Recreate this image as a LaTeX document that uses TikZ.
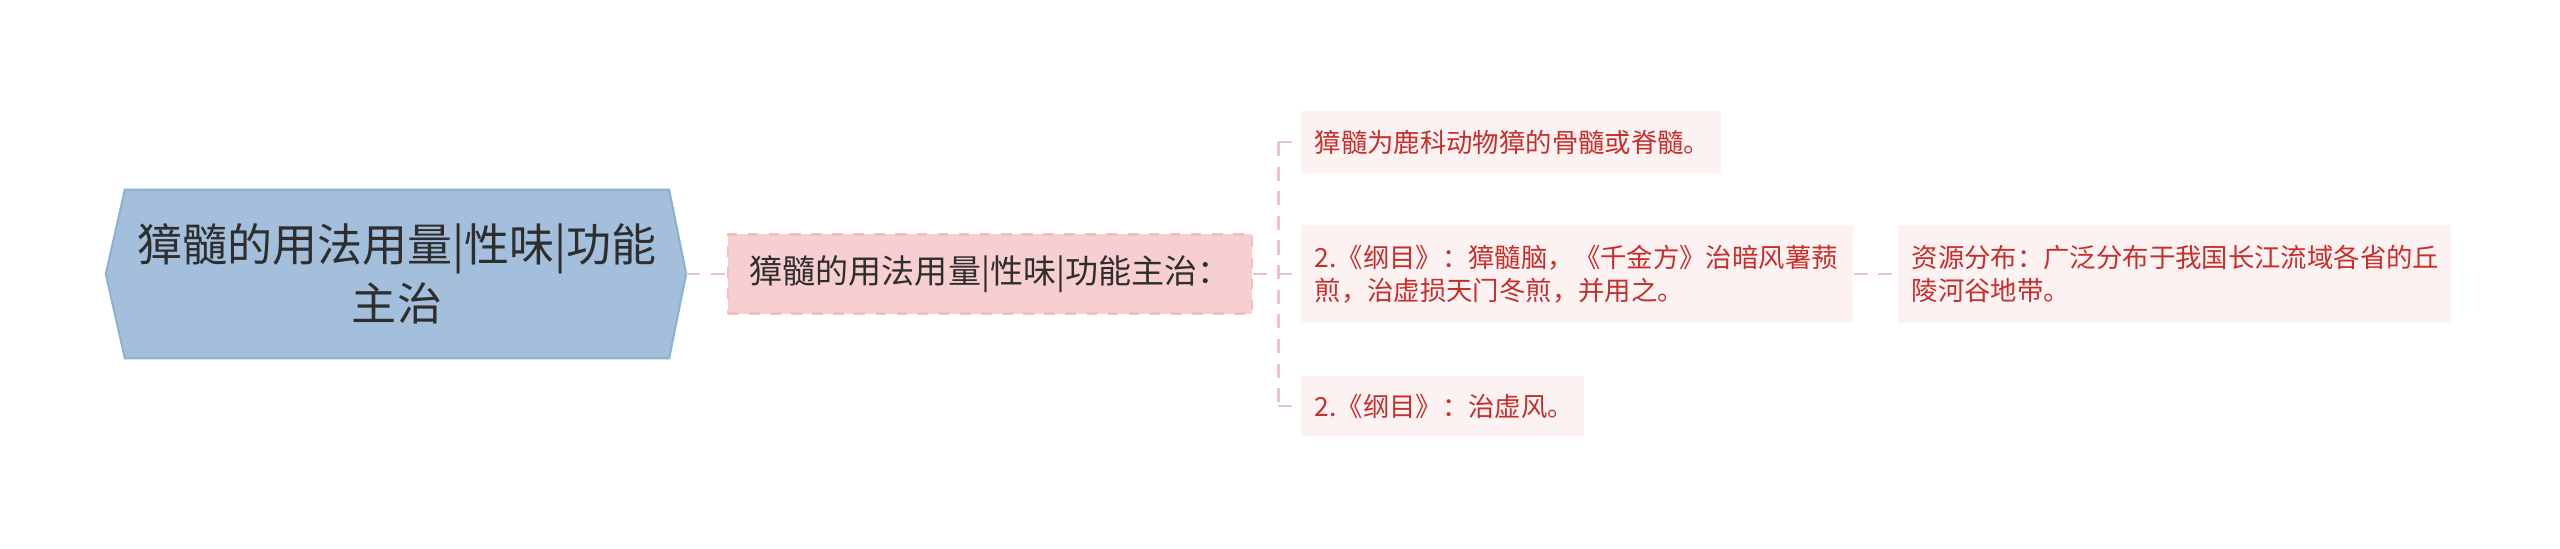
\documentclass[tikz,border=0pt]{standalone}
\usepackage{fontspec}
\setmainfont{Noto Sans CJK SC}
\usepackage{xcolor}
\definecolor{RootBlue}{HTML}{A3BFDB}
\definecolor{RootEdge}{HTML}{8FB0D1}
\definecolor{RootInk}{HTML}{2E2E2E}
\definecolor{TopicPink}{HTML}{F8CFD1}
\definecolor{TopicEdge}{HTML}{F2BEC1}
\definecolor{LeafPink}{HTML}{FDF2F2}
\definecolor{LeafRed}{HTML}{C62F2B}
\definecolor{LinkPink}{HTML}{EBC3C6}
\usetikzlibrary{positioning, backgrounds}

\tikzset{
  link/.style={draw=LinkPink, line width=0.8pt, dash pattern=on 4pt off 3pt},
  leafbox/.style={fill=LeafPink, anchor=west, align=left, inner xsep=0.14cm,
    text=LeafRed, font=\fontsize{7.5pt}{9.4pt}\selectfont},
}

\begin{document}
\begin{tikzpicture}[x=0.01cm, y=-0.01cm]
      \useasboundingbox (0,0) rectangle (2560,549);

      % Root
      \node[minimum width=5.34cm, minimum height=1.67cm, align=center, text=RootInk,
        font=\fontsize{12.8pt}{16.8pt}\selectfont] (root) at (397,274)
        {獐髓的用法用量|性味|功能\\主治};
      \begin{scope}[on background layer]
        \draw[fill=RootBlue, draw=RootEdge, line width=0.6pt] (root.north west) -- (root.north east)
          -- ([xshift=0.17cm]root.east) -- (root.south east) -- (root.south west)
          -- ([xshift=-0.19cm]root.west) -- cycle;
      \end{scope}

      % Topic
      \node[fill=TopicPink, draw=TopicEdge, dashed, line width=0.6pt, minimum width=5.24cm,
        minimum height=0.79cm, text=RootInk, font=\fontsize{9.4pt}{11pt}\selectfont]
        (topic) at (990,274) {獐髓的用法用量|性味|功能主治：};
      \draw[link] ([xshift=0.17cm]root.east) -- (topic.west);

      % Leaves
      \node[leafbox, text width=3.92cm, minimum height=0.61cm] (leaf1) at (1300,142)
        {獐髓为鹿科动物獐的骨髓或脊髓。};
      \node[leafbox, text width=5.24cm, minimum height=0.97cm] (leaf2) at (1300,274)
        {2.《纲目》：獐髓脑，《千金方》治暗风薯蓣\\煎，治虚损天门冬煎，并用之。};
      \node[leafbox, text width=2.55cm, minimum height=0.60cm] (leaf3) at (1300,406)
        {2.《纲目》：治虚风。};
      \node[leafbox, text width=5.25cm, minimum height=0.97cm] (detail) at (1897,274)
        {资源分布：广泛分布于我国长江流域各省的丘\\陵河谷地带。};

      \draw[link] (topic.east) -- ++(0.25cm,0) coordinate (fork);
      \draw[link] (fork |- leaf1.west) -- (fork |- leaf3.west);
      \foreach \n in {leaf1, leaf2, leaf3} {
        \draw[link] (fork |- \n.west) -- (\n.west);
      }
      \draw[link] (leaf2.east) -- (detail.west);
    \end{tikzpicture}
\end{document}
